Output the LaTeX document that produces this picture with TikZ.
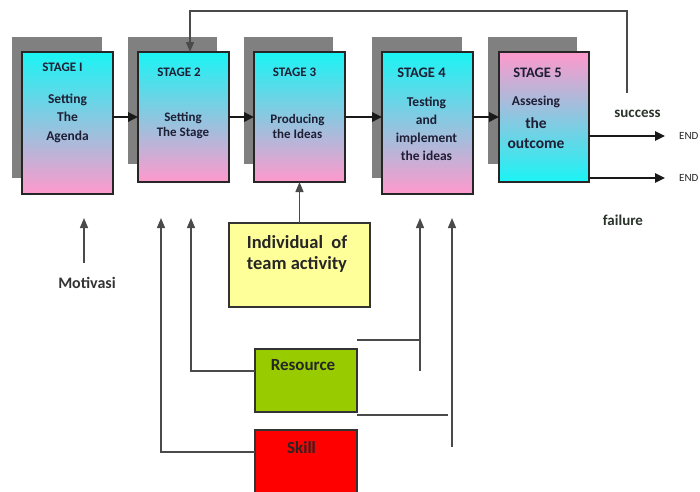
\documentclass[tikz,border=0pt]{standalone}
\usepackage{fontspec}
\setmainfont{Carlito}
\usetikzlibrary{arrows.meta}
\definecolor{cy}{HTML}{1AF4F4}
\definecolor{pk}{HTML}{FF99CC}
\definecolor{shd}{HTML}{808080}
\definecolor{txt}{HTML}{1E1E35}
\definecolor{lnc}{HTML}{4A4A4A}
\definecolor{yel}{HTML}{FFFF99}
\definecolor{grn}{HTML}{99CC00}
\definecolor{rd}{HTML}{FF0000}
\definecolor{lbl}{HTML}{2A332A}
\begin{document}
\begin{tikzpicture}[x=1pt,y=-1pt,
  shadowbox/.style={fill=shd, draw=none, anchor=north west, inner sep=0, outer sep=0},
  stagebox/.style={draw=black!85, line width=1.3pt, anchor=north west, inner sep=0, outer sep=0, minimum width=91pt},
  cp/.style={top color=cy, bottom color=pk},
  pc/.style={top color=pk, bottom color=cy},
  plainbox/.style={draw=black!80, line width=1.2pt, anchor=north west, inner sep=0, outer sep=0},
  flow/.style={-{Triangle[length=10pt,width=9.5pt]}, line width=1.8pt, draw=black!90},
  uparrow/.style={-{Triangle[length=10pt,width=8pt]}, line width=1.3pt, draw=lnc},
  fline/.style={line width=1.3pt, draw=lnc},
  ttl/.style={font=\bfseries\fontsize{13}{15}\selectfont, text=txt, inner sep=0},
  ttlb/.style={font=\bfseries\fontsize{14.5}{16}\selectfont, text=txt, inner sep=0},
  body/.style={align=center, text=txt, inner sep=0},
  lab/.style={inner sep=0, text=lbl, font=\bfseries\fontsize{15}{18}\selectfont},
  endlab/.style={inner sep=0, anchor=west, text=black!85, font=\fontsize{11}{13}\selectfont}
]
\useasboundingbox (0,0) rectangle (700,491);

% shadows
\node[shadowbox, minimum width=90pt, minimum height=141pt] (sh1) at (12,37) {};
\node[shadowbox, minimum width=89pt, minimum height=127pt] (sh2) at (128,37) {};
\node[shadowbox, minimum width=89pt, minimum height=127pt] (sh3) at (244,37) {};
\node[shadowbox, minimum width=90pt, minimum height=141pt] (sh4) at (372,37) {};
\node[shadowbox, minimum width=89pt, minimum height=127pt] (sh5) at (488,37) {};

% stage boxes
\node[stagebox, cp, minimum height=142pt] (s1) at (22,52) {};
\node[stagebox, cp, minimum height=130pt] (s2) at (138,52) {};
\node[stagebox, cp, minimum height=130pt] (s3) at (254,52) {};
\node[stagebox, cp, minimum height=142pt] (s4) at (382,52) {};
\node[stagebox, pc, minimum height=130pt, minimum width=90pt] (s5) at (499,52) {};

% stage titles
\node[ttl] (t1) at (62.5,67) {STAGE I};
\node[ttl] (t2) at (179,72) {STAGE 2};
\node[ttl] (t3) at (294.5,72) {STAGE 3};
\node[ttlb] (t4) at (421.5,73) {STAGE 4};
\node[ttlb] (t5) at (537.5,73) {STAGE 5};

% stage bodies
\node[body, font=\bfseries\fontsize{13.5}{18.5}\selectfont] (b1) at (67.5,118) {Setting\\The\\Agenda};
\node[body, font=\bfseries\fontsize{13}{15}\selectfont] (b2) at (183,126) {Setting\\The Stage};
\node[body, font=\bfseries\fontsize{13}{15}\selectfont] (b3) at (297.5,126) {Producing\\the Ideas};
\node[body, font=\bfseries\fontsize{13.5}{18}\selectfont] (b4) at (426.5,129) {Testing\\and\\implement\\the ideas};
\node[body, font=\bfseries\fontsize{13.5}{20}\selectfont] (b5a) at (536,102) {Assesing};
\node[body, font=\bfseries\fontsize{15.5}{20}\selectfont] (b5b) at (536,133) {the\\outcome};

% flow arrows
\draw[flow] (s1.east |- 0,117) -- (s2.west |- 0,117);
\draw[flow] (s2.east |- 0,117) -- (s3.west |- 0,117);
\draw[flow] (s3.east |- 0,117) -- (s4.west |- 0,117);
\draw[flow] (s4.east |- 0,117) -- (s5.west |- 0,117);

% feedback loop
\coordinate (fb) at (627,93);
\draw[uparrow] (fb) |- (190,11) -- (190,11 |- s2.north);

% outcome labels and END arrows
\node[lab] (succ) at (637.5,114) {success};
\node[lab] (fail) at (623,220) {failure};
\node[endlab] (end1) at (679,136) {END};
\node[endlab] (end2) at (679,178) {END};
\draw[flow, line width=1.6pt, shorten >=14pt] (s5.east |- end1.west) -- (end1.west);
\draw[flow, line width=1.6pt, shorten >=14pt] (s5.east |- end2.west) -- (end2.west);

% lower boxes
\node[plainbox, fill=yel, minimum width=141pt, minimum height=84pt] (ind) at (229,223) {};
\node[body, font=\bfseries\fontsize{18.5}{21}\selectfont, text=black!85] (indt) at (297,253.5) {Individual\ \ of\\team activity};
\node[plainbox, fill=grn, minimum width=102pt, minimum height=63pt] (res) at (255,349) {};
\node[inner sep=0, font=\bfseries\fontsize{17}{20}\selectfont, text=black!85] (rest) at (303,365) {Resource};
\node[plainbox, fill=rd, minimum width=102pt, minimum height=70pt] (sk) at (255,430) {};
\node[inner sep=0, font=\bfseries\fontsize{17}{20}\selectfont, text=black!85] (skt) at (301.5,448) {Skill};
\node[inner sep=0, font=\bfseries\fontsize{16}{19}\selectfont, text=black!80] (mot) at (87,283) {Motivasi};

% arrow tips
\coordinate (a1) at (84,218);
\coordinate (a2) at (161,218);
\coordinate (a3) at (191,218);
\coordinate (a4) at (420,218);
\coordinate (a5) at (452,218);

\draw[uparrow] (ind.north -| s3.south) -- (s3.south);
\draw[uparrow] (a1 |- 0,263) -- (a1);
\draw[uparrow] (sk.west |- 0,452) -| (a2);
\draw[uparrow] (res.west |- 0,371) -| (a3);
\draw[fline] (res.east |- 0,340) -- (a4 |- 0,340);
\draw[uparrow] (a4 |- 0,371) -- (a4);
\draw[fline] (res.east |- 0,415) -- (448,415);
\draw[uparrow] (a5 |- 0,447) -- (a5);
\end{tikzpicture}
\end{document}
